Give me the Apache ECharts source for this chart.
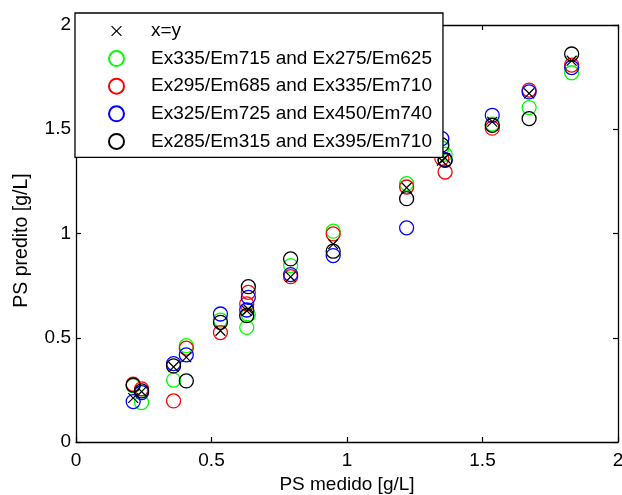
<!DOCTYPE html>
<html>
<head>
<meta charset="utf-8">
<script src="https://cdn.jsdelivr.net/npm/echarts@6/dist/echarts.min.js"></script>
<style>
  html, body { margin: 0; padding: 0; background: #fff; }
  #chart { width: 622px; height: 495px; }
</style>
</head>
<body>
<div id="chart"></div>
<script>
// measured PS values [g/L]
const measured = [0.211, 0.242, 0.36, 0.407, 0.533, 0.630, 0.636, 0.792, 0.949, 1.220, 1.350, 1.362, 1.536, 1.672, 1.829];

// predicted PS values for each model
const predGreen = [0.269, 0.189, 0.297, 0.462, 0.585, 0.550, 0.610, 0.846, 1.011, 1.239, 1.410, 1.380, 1.525, 1.604, 1.771];
const predRed   = [0.277, 0.255, 0.197, 0.450, 0.525, 0.662, 0.718, 0.793, 0.998, 1.223, 1.360, 1.295, 1.505, 1.688, 1.808];
const predBlue  = [0.194, 0.237, 0.376, 0.418, 0.614, 0.633, 0.694, 0.803, 0.894, 1.027, 1.455, 1.354, 1.567, 1.679, 1.796];
const predBlack = [0.273, 0.245, 0.365, 0.293, 0.574, 0.606, 0.745, 0.878, 0.915, 1.167, 1.425, 1.351, 1.519, 1.551, 1.861];

const seriesNames = [
  'x=y',
  'Ex335/Em715 and Ex275/Em625',
  'Ex295/Em685 and Ex335/Em710',
  'Ex325/Em725 and Ex450/Em740',
  'Ex285/Em315 and Ex395/Em710'
];
const colors = ['#000000', '#00ff00', '#ff0000', '#0000ff', '#000000'];

const fontFamily = '"Liberation Sans", Arial, sans-serif';

// thin "x" marker, with tiny corner specks so the icon keeps some padding
const crossPath = 'path://M-2,-2L-1.99,-2L-2,-1.99Z M12,12L11.99,12L12,11.99Z ' +
  'M0,0.8L0.8,0L5,4.2L9.2,0L10,0.8L5.8,5L10,9.2L9.2,10L5,5.8L0.8,10L0,9.2L4.2,5Z';

function pairs(ys) {
  return measured.map((x, i) => [x, ys[i]]);
}

const chart = echarts.init(document.getElementById('chart'), null, { renderer: 'canvas' });

const baseAxis = {
  min: 0,
  max: 2,
  interval: 0.5,
  axisLine: { show: true, onZero: false, lineStyle: { color: '#000', width: 1.3 } },
  axisTick: { show: true, inside: true, length: 5, lineStyle: { color: '#000', width: 1.2 } },
  splitLine: { show: false },
  axisLabel: {
    color: '#000',
    fontSize: 19,
    fontFamily: fontFamily,
    formatter: (v) => String(v)
  }
};

const option = {
  animation: false,
  backgroundColor: '#ffffff',
  grid: { left: 76, right: 4, top: 25, bottom: 53, outerBoundsMode: 'none' },
  xAxis: [
    Object.assign({}, baseAxis, {
      type: 'value',
      position: 'bottom',
      name: 'PS medido [g/L]',
      nameLocation: 'middle',
      nameGap: 32,
      nameTextStyle: { color: '#000', fontSize: 19, fontFamily: fontFamily },
      axisLabel: Object.assign({}, baseAxis.axisLabel, { margin: 9 })
    }),
    Object.assign({}, baseAxis, {
      type: 'value',
      position: 'top',
      axisLabel: { show: false }
    })
  ],
  yAxis: [
    Object.assign({}, baseAxis, {
      type: 'value',
      position: 'left',
      name: 'PS predito [g/L]',
      nameLocation: 'middle',
      nameGap: 44,
      nameTextStyle: { color: '#000', fontSize: 19.5, fontFamily: fontFamily, padding: [0, 14, 0, 0] },
      axisLabel: Object.assign({}, baseAxis.axisLabel, { margin: 5 })
    }),
    Object.assign({}, baseAxis, {
      type: 'value',
      position: 'right',
      axisLabel: { show: false }
    })
  ],
  legend: {
    orient: 'vertical',
    left: 75,
    top: 13,
    padding: [8, 11, 6, 33],
    itemWidth: 15,
    itemHeight: 15,
    itemGap: 7.6,
    backgroundColor: '#ffffff',
    borderColor: '#000',
    borderWidth: 1.3,
    borderRadius: 0,
    z: 10,
    textStyle: {
      color: '#000',
      fontSize: 19,
      fontFamily: fontFamily,
      lineHeight: 20,
      padding: [0, 0, 0, 22]
    },
    data: seriesNames
  },
  series: [
    {
      name: seriesNames[0],
      type: 'scatter',
      symbol: crossPath,
      symbolSize: 15,
      z: 3,
      itemStyle: { color: colors[0], opacity: 1 },
      data: measured.map((x) => [x, x])
    }
  ].concat([predGreen, predRed, predBlue, predBlack].map((ys, k) => ({
    name: seriesNames[k + 1],
    type: 'scatter',
    symbol: 'circle',
    symbolSize: 14,
    itemStyle: {
      color: 'rgba(255,255,255,0)',
      borderColor: colors[k + 1],
      borderWidth: 1.3,
      opacity: 1
    },
    data: pairs(ys)
  })))
};

chart.setOption(option);
</script>
</body>
</html>
